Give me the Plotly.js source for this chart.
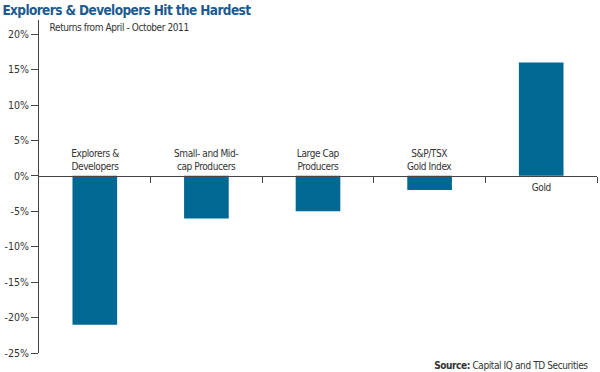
<!DOCTYPE html>
<html><head><meta charset="utf-8">
<script src="https://cdn.plot.ly/plotly-3.0.1.min.js"></script>
<style>body{margin:0;background:#fff}#chart{width:600px;height:372px}
#chart text{font-stretch:condensed !important}
#chart .annotation-text{letter-spacing:-0.4px}
#chart .gtitle{letter-spacing:-0.6px}</style>
</head><body><div id="chart"></div>
<script>
var categories = ["Explorers &<br>Developers", "Small- and Mid-<br>cap Producers", "Large Cap<br>Producers", "S&P/TSX<br>Gold Index", "Gold"];
var returns = [-21, -6, -5, -2, 16];
var yTicks = [20, 15, 10, 5, 0, -5, -10, -15, -20, -25];
var yTickLabels = yTicks.map(function(v){ return v + "%"; });

var FONT = "'DejaVu Sans Condensed', 'Liberation Sans Narrow', 'DejaVu Sans', sans-serif";
var yMin = -25, yMax = 22;
var idx = categories.map(function(_, i){ return i; });

var annotations = categories.map(function(c, i){
  var neg = returns[i] < 0;
  return {x: i, y: 0, xref: 'x', yref: 'y', text: c, showarrow: false,
    yanchor: neg ? 'bottom' : 'top', yshift: neg ? 2 : -4,
    font: {family: FONT, size: 10, color: '#333'}, align: 'center'};
});
annotations.push({xref: 'paper', yref: 'paper', x: 0.003, y: 1.0, xanchor: 'left', yanchor: 'top',
  text: 'Returns from April - October 2011', showarrow: false, font: {family: FONT, size: 10, color: '#333'}});
annotations.push({xref: 'paper', yref: 'paper', x: 1.0, y: -0.015, xanchor: 'right', yanchor: 'top',
  text: '<b>Source:</b> Capital IQ and TD Securities', showarrow: false, font: {family: FONT, size: 10, color: '#333'}});

var data = [{
  type: 'bar', x: idx, y: returns, width: 0.4,
  marker: {color: '#006892'}, hoverinfo: 'none'
}];

var layout = {
  width: 600, height: 372,
  margin: {l: 39, r: 3, t: 20, b: 19},
  paper_bgcolor: '#fff', plot_bgcolor: '#fff',
  showlegend: false,
  title: {text: '<b>Explorers & Developers Hit the Hardest</b>', x: 0.004, xanchor: 'left', y: 0.972, yanchor: 'middle',
    font: {family: FONT, size: 13.5, color: '#1d5a90'}},
  xaxis: {range: [-0.5, 4.5], tickvals: [0.5, 1.5, 2.5, 3.5, 4.5], showticklabels: false,
    ticks: 'outside', ticklen: 6, tickcolor: '#444', tickwidth: 1,
    showline: true, linecolor: '#444', linewidth: 1, showgrid: false, zeroline: false,
    anchor: 'free', position: (0 - yMin) / (yMax - yMin)},
  yaxis: {range: [yMin, yMax], tickvals: yTicks, ticktext: yTickLabels,
    ticks: 'outside', ticklen: 7, tickcolor: '#444', tickwidth: 1,
    showline: true, linecolor: '#444', linewidth: 1, showgrid: false, zeroline: false,
    tickfont: {family: FONT, size: 10.5, color: '#333'}},
  annotations: annotations
};
Plotly.newPlot('chart', data, layout, {displayModeBar: false, staticPlot: true});
</script></body></html>
